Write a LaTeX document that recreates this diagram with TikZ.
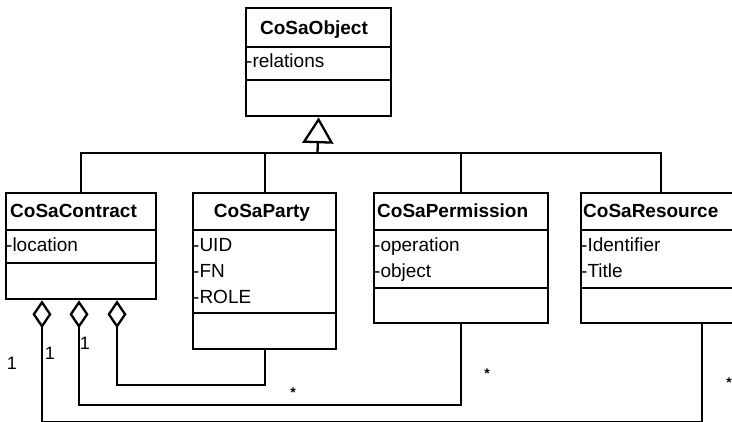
\documentclass[tikz,border=0pt]{standalone}
\usepackage{fontspec}
\setmainfont{Liberation Sans}
\usetikzlibrary{arrows.meta,positioning}

\begin{document}
\begin{tikzpicture}[x=1pt, y=-1pt,
  cls/.style={draw, line width=2.3pt, anchor=north west, inner sep=0pt},
  clsname/.style={font=\fontsize{19}{22}\selectfont\bfseries, inner sep=0pt},
  attr/.style={font=\fontsize{19}{22}\selectfont, anchor=base west, inner sep=0pt},
  conn/.style={line width=2.3pt},
  agg/.style={conn, {Diamond[open, length=28pt, width=19pt]}-},
  gen/.style={conn, -{Triangle[open, length=26pt, width=31pt]}},
  mult/.style={font=\fontsize{18}{20}\selectfont, inner sep=0pt},
  many/.style={font=\fontsize{14}{16}\selectfont\bfseries, inner sep=0pt, anchor=base}
]
\useasboundingbox (0,0) rectangle (732,422);
\clip (0,0) rectangle (732,422);

% class boxes
\node[cls, minimum width=145pt, minimum height=108pt] (object) at (245,7) {};
\node[cls, minimum width=150pt, minimum height=106pt] (contract) at (5,192) {};
\node[cls, minimum width=143pt, minimum height=156pt] (party) at (192,192) {};
\node[cls, minimum width=174pt, minimum height=130pt] (permission) at (373,192) {};
\node[cls, minimum width=160pt, minimum height=130pt] (resource) at (580,192) {};

% compartments
\foreach \c/\h/\d in {object/40/73, contract/38/71, party/38/121,
                      permission/38/96, resource/38/96} {
  \draw[conn] ([yshift=-\h pt]\c.north west) -- ([yshift=-\h pt]\c.north east);
  \draw[conn] ([yshift=-\d pt]\c.north west) -- ([yshift=-\d pt]\c.north east);
}

% names
\node[clsname, anchor=base] (object-name) at (314,35) {CoSaObject};
\node[clsname, anchor=base west] (contract-name) at (10,218) {CoSaContract};
\node[clsname, anchor=base] (party-name) at (262,218) {CoSaParty};
\node[clsname, anchor=base west] (permission-name) at (377,218) {CoSaPermission};
\node[clsname, anchor=base west] (resource-name) at (583,218) {CoSaResource};

% attributes
\node[attr] (object-a1) at (246,68) {-relations};
\node[attr] (contract-a1) at (6,252) {-location};
\node[attr] (party-a1) at (193,252) {-UID};
\node[attr] (party-a2) at (193,278) {-FN};
\node[attr] (party-a3) at (193,304) {-ROLE};
\node[attr] (permission-a1) at (374,252) {-operation};
\node[attr] (permission-a2) at (374,278) {-object};
\node[attr] (resource-a1) at (581,252) {-Identifier};
\node[attr] (resource-a2) at (581,278) {-Title};

% generalization
\coordinate (bus) at (317.5,153);
\draw[gen] (bus) -- (object.south);
\draw[conn] (contract.north) |- (bus) -| (resource.north);
\draw[conn] (party.north) -- (party.north |- bus);
\draw[conn] (permission.north) -- (permission.north |- bus);

% aggregations
\draw[agg] ([xshift=112pt]contract.south west) |- ([yshift=-35pt]party.south) -- (party.south);
\draw[agg] ([xshift=74pt]contract.south west) |- ([yshift=-81pt]permission.south) -- (permission.south);
\draw[agg] ([xshift=37pt]contract.south west) |- ([xshift=41pt, yshift=-98pt]resource.south)
  -- ([xshift=41pt]resource.south);

% multiplicities
\node[mult] (m1) at (12,363) {1};
\node[mult] (m2) at (50,353) {1};
\node[mult] (m3) at (85,343) {1};
\node[many] (s1) at (293,398) {*};
\node[many] (s2) at (487,379) {*};
\node[many] (s3) at (729,388) {*};
\end{tikzpicture}
\end{document}
